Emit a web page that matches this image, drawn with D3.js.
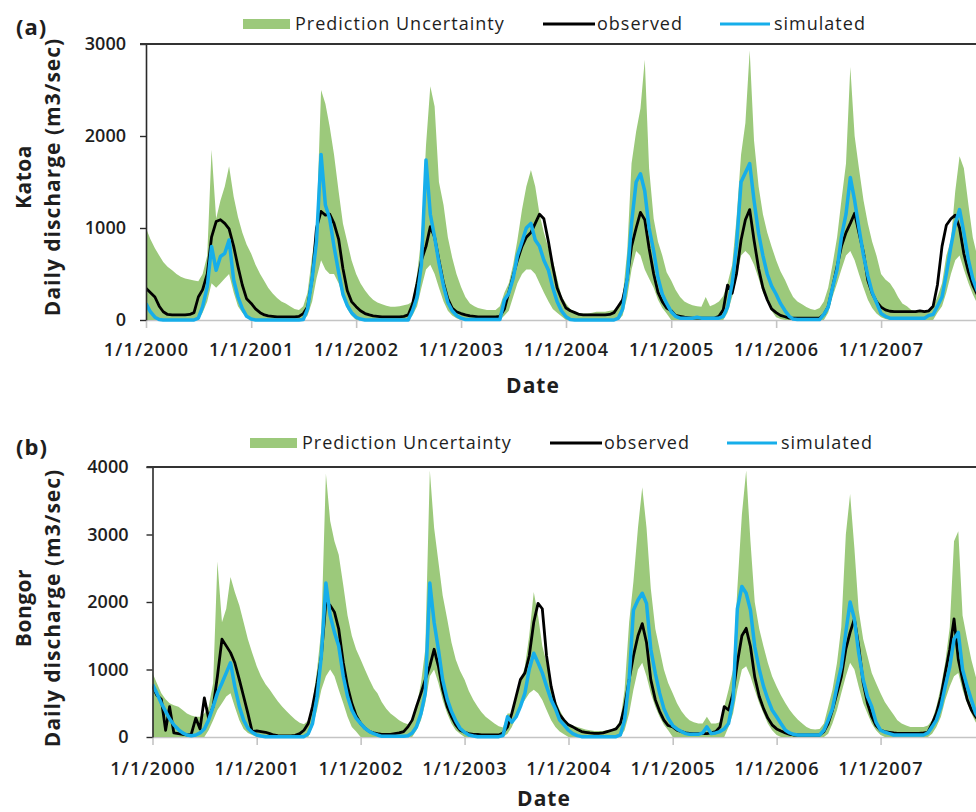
<!DOCTYPE html>
<html>
<head>
<meta charset="utf-8">
<script src="https://cdnjs.cloudflare.com/ajax/libs/d3/7.8.5/d3.min.js"></script>
<style>
  html, body { margin: 0; padding: 0; background: #ffffff; }
  svg { display: block; }
  text { font-family: "Open Sans", "Noto Sans", sans-serif; fill: #1e1e1e; }
</style>
</head>
<body>
<svg id="chart" width="976" height="812"></svg>
<script>
// ---- data: semi-monthly discharge values (m3/sec), 1 Jan 2000 .. 1 Jan 2008 ----
const years = [2000, 2001, 2002, 2003, 2004, 2005, 2006, 2007];
const katoaTicks = [0, 1000, 2000, 3000];
const bongorTicks = [0, 1000, 2000, 3000, 4000];
const legendLabels = ["Prediction Uncertainty", "observed", "simulated"];

const katoaObserved = [
  345, 300, 250, 150, 90, 60, 55, 55, 55, 55, 60, 80, 250, 330, 500, 900, 1070, 1090, 1050, 990, 800, 580, 380, 230,
  180, 120, 80, 55, 45, 40, 35, 35, 35, 35, 35, 40, 70, 140, 450, 1000, 1180, 1140, 1150, 1050, 880, 560, 320, 200,
  145, 100, 70, 55, 45, 40, 35, 35, 35, 35, 35, 40, 55, 170, 400, 650, 800, 1015, 900, 650, 400, 230, 130, 90,
  70, 55, 45, 40, 35, 35, 35, 35, 35, 40, 120, 300, 480, 650, 800, 900, 950, 1050, 1150, 1100, 850, 580, 350, 230,
  130, 100, 80, 60, 55, 55, 55, 55, 55, 55, 60, 80, 150, 220, 450, 800, 1000, 1170, 1090, 780, 500, 300, 200, 130,
  100, 50, 40, 30, 25, 20, 20, 20, 20, 20, 20, 40, 110, 380, 290, 500, 870, 1090, 1200, 870, 560, 350, 220, 120,
  80, 50, 35, 20, 20, 20, 20, 20, 20, 20, 20, 60, 145, 350, 580, 800, 950, 1050, 1160, 950, 730, 430, 290, 200,
  140, 110, 95, 90, 90, 90, 90, 90, 90, 100, 90, 100, 150, 380, 800, 1030, 1100, 1140, 1000, 720, 520, 380, 280, 200,
  150
];
const katoaSimulated = [
  180, 90, 30, 5, 0, 0, 0, 0, 0, 0, 0, 0, 20, 145, 360, 800, 540, 690, 725, 870, 435, 250, 125, 40,
  10, 0, 0, 0, 0, 0, 0, 0, 0, 0, 0, 0, 5, 120, 450, 850, 1800, 1250, 1100, 800, 520, 280, 160, 80,
  30, 10, 0, 0, 0, 0, 0, 0, 0, 0, 0, 0, 0, 100, 250, 600, 1740, 1150, 900, 620, 370, 190, 100, 50,
  20, 5, 5, 5, 5, 5, 5, 5, 5, 5, 220, 290, 450, 700, 850, 1000, 1050, 870, 800, 650, 540, 350, 200, 100,
  35, 5, 0, 0, 0, 0, 0, 0, 0, 0, 0, 0, 20, 120, 450, 1050, 1500, 1590, 1400, 1000, 750, 460, 280, 180,
  90, 40, 20, 20, 20, 20, 30, 20, 20, 20, 20, 20, 40, 140, 400, 800, 1500, 1600, 1700, 1300, 940, 700, 500, 370,
  280, 180, 100, 40, 10, 5, 5, 5, 5, 5, 5, 60, 140, 350, 550, 900, 1150, 1550, 1300, 1000, 700, 480, 300, 190,
  70, 40, 20, 20, 20, 20, 20, 20, 20, 20, 20, 50, 60, 150, 250, 500, 800, 1050, 1200, 950, 650, 450, 320, 220,
  170
];
const katoaUpper = [
  1000, 880, 780, 700, 630, 580, 540, 500, 470, 450, 440, 430, 420, 500, 700, 1850, 1100, 1300, 1450, 1670, 1340, 1120, 950, 820,
  720, 600, 500, 420, 350, 290, 240, 200, 180, 150, 120, 110, 150, 300, 700, 1000, 2500, 2350, 2100, 1800, 1400, 1050, 850, 650,
  500, 400, 320, 260, 220, 190, 170, 155, 145, 145, 150, 160, 170, 200, 500, 900, 1900, 2540, 2320, 1500, 1250, 900, 680, 500,
  360, 250, 180, 150, 130, 120, 110, 110, 110, 150, 300, 400, 600, 870, 1200, 1450, 1630, 1450, 1150, 950, 780, 650, 450, 260,
  180, 120, 90, 75, 70, 70, 80, 90, 90, 90, 100, 110, 145, 250, 750, 1700, 2050, 2300, 2830, 1650, 1100, 850, 700, 520,
  430, 330, 250, 200, 180, 160, 150, 145, 250, 150, 170, 200, 260, 400, 600, 1100, 1800, 2140, 2930, 1950, 1450, 1150, 950, 800,
  650, 530, 435, 330, 250, 200, 170, 140, 120, 110, 130, 200, 350, 600, 900, 1300, 1700, 2750, 2000, 1650, 1300, 1050, 850, 700,
  500, 440, 400, 330, 250, 180, 150, 110, 95, 90, 95, 110, 150, 250, 400, 700, 870, 1400, 1780, 1650, 1250, 900, 700, 550,
  450
];
const katoaLower = [
  0, 0, 0, 0, 0, 0, 0, 0, 0, 0, 0, 0, 0, 80, 200, 400, 350, 400, 450, 500, 300, 150, 80, 30,
  0, 0, 0, 0, 0, 0, 0, 0, 0, 0, 0, 0, 0, 50, 200, 450, 650, 550, 500, 500, 400, 250, 120, 50,
  0, 0, 0, 0, 0, 0, 0, 0, 0, 0, 0, 0, 0, 50, 150, 350, 550, 600, 500, 350, 200, 100, 50, 20,
  0, 0, 0, 0, 0, 0, 0, 0, 0, 0, 50, 100, 250, 400, 500, 550, 550, 500, 400, 300, 200, 120, 80, 40,
  0, 0, 0, 0, 0, 0, 0, 0, 0, 0, 0, 0, 0, 50, 250, 550, 750, 700, 550, 450, 350, 220, 130, 70,
  0, 0, 0, 0, 0, 0, 0, 0, 0, 0, 0, 0, 0, 80, 250, 450, 700, 750, 700, 600, 450, 300, 200, 100,
  30, 10, 0, 0, 0, 0, 0, 0, 0, 0, 0, 0, 80, 250, 400, 550, 700, 750, 650, 500, 350, 220, 130, 70,
  30, 10, 0, 0, 0, 0, 0, 0, 0, 0, 0, 0, 0, 80, 150, 300, 500, 650, 700, 550, 400, 280, 180, 120,
  80
];

const bongorObserved = [
  750, 620, 560, 100, 450, 60, 50, 40, 30, 40, 280, 120, 580, 280, 450, 900, 1450, 1350, 1250, 1100, 850, 600, 350, 80,
  90, 80, 70, 50, 30, 20, 15, 15, 15, 25, 50, 100, 200, 450, 800, 1200, 2000, 1950, 1850, 1600, 1100, 750, 500, 320,
  200, 130, 80, 60, 50, 40, 40, 40, 50, 60, 80, 150, 250, 450, 650, 850, 1050, 1300, 1050, 700, 450, 300, 180, 100,
  70, 50, 40, 40, 30, 30, 30, 30, 30, 60, 150, 350, 600, 850, 950, 1200, 1700, 1980, 1900, 1200, 750, 480, 330, 250,
  180, 150, 110, 80, 70, 60, 55, 55, 60, 80, 100, 120, 200, 450, 850, 1200, 1500, 1680, 1400, 850, 550, 380, 250, 170,
  150, 100, 80, 60, 55, 50, 50, 50, 50, 60, 80, 150, 450, 400, 650, 1100, 1500, 1610, 1340, 890, 600, 420, 280, 180,
  120, 90, 60, 40, 30, 30, 30, 30, 30, 30, 30, 80, 200, 400, 650, 890, 1300, 1550, 1750, 1350, 800, 500, 300, 170,
  100, 80, 70, 60, 55, 55, 55, 55, 55, 55, 60, 70, 200, 350, 600, 950, 1300, 1750, 1150, 850, 560, 400, 300, 220,
  160
];
const bongorSimulated = [
  780, 650, 500, 380, 270, 180, 110, 60, 30, 20, 30, 60, 120, 250, 450, 650, 800, 950, 1100, 750, 450, 250, 130, 70,
  30, 15, 5, 5, 5, 5, 5, 5, 5, 5, 5, 5, 50, 200, 600, 1200, 2280, 1800, 1550, 1350, 900, 600, 400, 280,
  200, 130, 80, 50, 30, 10, 10, 10, 10, 10, 10, 20, 60, 150, 350, 650, 2280, 1700, 1300, 850, 560, 380, 240, 130,
  70, 30, 15, 5, 5, 5, 5, 5, 5, 20, 300, 220, 300, 450, 650, 1000, 1240, 1100, 950, 750, 550, 420, 250, 180,
  100, 50, 20, 5, 5, 5, 5, 5, 5, 5, 5, 5, 30, 250, 850, 1880, 2030, 2130, 1980, 1300, 940, 650, 420, 280,
  170, 120, 80, 50, 40, 40, 40, 60, 150, 50, 60, 80, 120, 200, 550, 1900, 2230, 2130, 1880, 1340, 1000, 750, 560, 400,
  300, 200, 100, 60, 40, 30, 30, 30, 30, 30, 30, 100, 250, 420, 750, 1040, 1550, 2000, 1750, 1250, 850, 600, 450, 220,
  100, 70, 50, 30, 30, 30, 30, 30, 30, 30, 30, 60, 150, 250, 450, 750, 1040, 1450, 1550, 1000, 750, 550, 350, 250,
  180
];
const bongorUpper = [
  950, 800, 650, 560, 500, 470, 450, 400, 350, 320, 300, 300, 350, 450, 800, 2600, 1700, 1900, 2370, 2150, 1950, 1700, 1450, 1250,
  1050, 900, 780, 700, 620, 530, 450, 380, 320, 260, 210, 190, 250, 500, 1000, 1600, 3900, 3200, 2900, 2700, 2250, 1800, 1500, 1300,
  1150, 1000, 850, 720, 650, 520, 420, 350, 300, 250, 210, 190, 250, 450, 800, 1300, 3950, 3100, 2600, 2100, 1750, 1400, 1150, 980,
  850, 680, 550, 450, 370, 300, 250, 200, 160, 140, 350, 350, 550, 800, 1050, 1500, 2150, 1800, 1350, 1100, 750, 550, 400, 280,
  200, 170, 150, 130, 110, 100, 90, 90, 90, 100, 110, 150, 250, 700, 1700, 2300, 3100, 3700, 3100, 2200, 1600, 1300, 1000, 800,
  650, 500, 380, 300, 250, 220, 200, 200, 300, 200, 200, 220, 450, 700, 1000, 2200, 3300, 3950, 2900, 2000, 1600, 1340, 1100, 900,
  750, 620, 500, 400, 330, 260, 200, 150, 120, 110, 120, 200, 450, 700, 1100, 1630, 3000, 3600, 2800, 1880, 1450, 1200, 950, 800,
  650, 520, 420, 330, 250, 200, 170, 150, 150, 150, 150, 170, 250, 450, 750, 1100, 1630, 2900, 3050, 1800, 1450, 1140, 900, 700,
  550
];
const bongorLower = [
  0, 0, 0, 0, 0, 0, 0, 0, 0, 0, 0, 0, 0, 100, 250, 400, 500, 600, 650, 450, 250, 120, 60, 30,
  0, 0, 0, 0, 0, 0, 0, 0, 0, 0, 0, 0, 0, 150, 400, 700, 900, 1000, 900, 700, 500, 300, 150, 80,
  0, 0, 0, 0, 0, 0, 0, 0, 0, 0, 0, 0, 0, 100, 250, 500, 900, 1000, 800, 550, 350, 200, 100, 50,
  0, 0, 0, 0, 0, 0, 0, 0, 0, 0, 50, 150, 300, 450, 550, 650, 700, 650, 550, 400, 250, 150, 80, 40,
  0, 0, 0, 0, 0, 0, 0, 0, 0, 0, 0, 0, 0, 100, 350, 700, 1000, 1100, 900, 650, 450, 300, 180, 100,
  0, 0, 0, 0, 0, 0, 0, 0, 0, 0, 0, 0, 0, 150, 350, 700, 1000, 1050, 900, 700, 500, 350, 200, 100,
  30, 0, 0, 0, 0, 0, 0, 0, 0, 0, 0, 0, 50, 200, 400, 650, 900, 1100, 1000, 750, 500, 350, 200, 100,
  30, 0, 0, 0, 0, 0, 0, 0, 0, 0, 0, 0, 50, 150, 300, 550, 750, 900, 950, 700, 500, 350, 220, 150,
  100
];

// sample dates: the 1st and 16th of every month, closing on 1 Jan 2008
const sampleDates = [];
years.forEach(y => {
  for (let m = 0; m < 12; m++) sampleDates.push(new Date(y, m, 1), new Date(y, m, 16));
});
sampleDates.push(new Date(2008, 0, 1));

const COLORS = { band: "#9cc97b", observed: "#000000", simulated: "#16aeea" };
const WIDTH = 976;

const panels = [
  { tag: "(a)", station: "Katoa", obs: katoaObserved, sim: katoaSimulated, lo: katoaLower, hi: katoaUpper,
    ticks: katoaTicks, left: 146, pxYear: 105, top: 44, bottom: 320, tagY: 35, legendX: 243, legendY: 24,
    yPad: 14, xLabelY: 36, dateX: 533, dateY: 393, titleY: 177 },
  { tag: "(b)", station: "Bongor", obs: bongorObserved, sim: bongorSimulated, lo: bongorLower, hi: bongorUpper,
    ticks: bongorTicks, left: 152.5, pxYear: 104, top: 467, bottom: 737, tagY: 455, legendX: 250, legendY: 443,
    yPad: 18, xLabelY: 38, dateX: 544, dateY: 806, titleY: 608 }
];

const svg = d3.select("#chart");

panels.forEach((p, k) => {
  const g = svg.append("g");
  const yMax = d3.max(p.ticks);
  const x = d3.scaleTime()
    .domain([new Date(2000, 0, 1), new Date(2008, 0, 1)])
    .range([p.left, p.left + 8 * p.pxYear]);
  const y = d3.scaleLinear().domain([0, yMax]).range([p.bottom, p.top]);

  // panel tag
  g.append("text").attr("x", 16).attr("y", p.tagY)
    .attr("font-size", 22).attr("font-weight", 700).attr("letter-spacing", 1)
    .text(p.tag);

  // legend
  const lg = g.append("g").attr("transform", `translate(${p.legendX},${p.legendY})`);
  lg.append("rect").attr("x", 0).attr("y", -5).attr("width", 47).attr("height", 10).attr("fill", COLORS.band);
  lg.append("text").attr("x", 52).attr("y", 6).attr("font-size", 18).attr("letter-spacing", 1).text(legendLabels[0]);
  lg.append("line").attr("x1", 300).attr("x2", 352).attr("y1", 0).attr("y2", 0)
    .attr("stroke", COLORS.observed).attr("stroke-width", 3);
  lg.append("text").attr("x", 354).attr("y", 6).attr("font-size", 18).attr("letter-spacing", 1).text(legendLabels[1]);
  lg.append("line").attr("x1", 477).attr("x2", 527).attr("y1", 0).attr("y2", 0)
    .attr("stroke", COLORS.simulated).attr("stroke-width", 3);
  lg.append("text").attr("x", 531).attr("y", 6).attr("font-size", 18).attr("letter-spacing", 1).text(legendLabels[2]);

  // x axis (light grey baseline with downward ticks)
  const xAxis = d3.axisBottom(x)
    .tickValues(years.map(yr => new Date(yr, 0, 1)))
    .tickFormat(d3.timeFormat("%-m/%-d/%Y"))
    .tickSize(8).tickSizeOuter(0).tickPadding(p.xLabelY - 8 - 13);
  const gx = g.append("g").attr("transform", `translate(0,${p.bottom})`).call(xAxis);
  gx.select(".domain").attr("stroke", "#c4c4c4").attr("stroke-width", 1.6);
  gx.selectAll(".tick line").attr("stroke", "#c4c4c4").attr("stroke-width", 1.6);
  gx.selectAll(".tick text").attr("font-size", 18).attr("font-weight", 600)
    .attr("letter-spacing", 1.2).attr("fill", "#1e1e1e");

  // clipped plotting region
  const clipId = `plot-clip-${k}`;
  svg.append("clipPath").attr("id", clipId).append("rect")
    .attr("x", p.left).attr("y", p.top - 4).attr("width", WIDTH - p.left).attr("height", p.bottom - p.top + 7);
  const plot = g.append("g").attr("clip-path", `url(#${clipId})`);

  const xi = (d, i) => x(sampleDates[i]);

  plot.append("path")
    .datum(p.hi)
    .attr("fill", COLORS.band)
    .attr("d", d3.area().x(xi).y0((d, i) => y(p.lo[i])).y1(d => y(d)));

  plot.append("path")
    .datum(p.obs)
    .attr("fill", "none").attr("stroke", COLORS.observed).attr("stroke-width", 2.8)
    .attr("stroke-linejoin", "round")
    .attr("d", d3.line().x(xi).y(d => y(d)));

  plot.append("path")
    .datum(p.sim)
    .attr("fill", "none").attr("stroke", COLORS.simulated).attr("stroke-width", 3.5)
    .attr("stroke-linejoin", "round")
    .attr("d", d3.line().x(xi).y(d => y(d)));

  // y axis
  const yAxis = d3.axisLeft(y).tickValues(p.ticks).tickFormat(d3.format("d"))
    .tickSize(6).tickSizeOuter(0).tickPadding(p.yPad);
  const gy = g.append("g").attr("transform", `translate(${p.left},0)`).call(yAxis);
  gy.select(".domain").attr("stroke", "#2a2a2a").attr("stroke-width", 1.6);
  gy.selectAll(".tick line").attr("stroke", "#2a2a2a").attr("stroke-width", 1.4);
  gy.selectAll(".tick text").attr("font-size", 18).attr("font-weight", 600).attr("fill", "#1e1e1e");

  // top frame line
  g.append("line").attr("x1", p.left - 6).attr("x2", WIDTH).attr("y1", p.top).attr("y2", p.top)
    .attr("stroke", "#333333").attr("stroke-width", 2);

  // axis titles
  g.append("text").attr("transform", `translate(31,${p.titleY}) rotate(-90)`)
    .attr("text-anchor", "middle").attr("font-size", 21).attr("font-weight", 700).attr("letter-spacing", 0.5)
    .text(p.station);
  g.append("text").attr("transform", `translate(60,${p.titleY}) rotate(-90)`)
    .attr("text-anchor", "middle").attr("font-size", 21).attr("font-weight", 700).attr("letter-spacing", 1)
    .text("Daily discharge (m3/sec)");
  g.append("text").attr("x", p.dateX).attr("y", p.dateY)
    .attr("text-anchor", "middle").attr("font-size", 21).attr("font-weight", 700).attr("letter-spacing", 1)
    .text("Date");
});
</script>
</body>
</html>
